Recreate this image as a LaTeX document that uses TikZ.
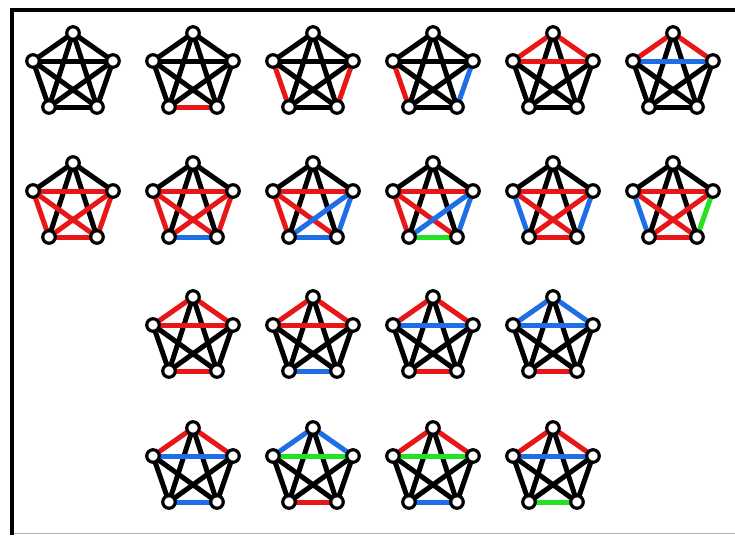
\documentclass[tikz,border=0pt]{standalone}
\usetikzlibrary{backgrounds}
\definecolor{kred}{RGB}{232,22,22}
\definecolor{kblue}{RGB}{30,110,230}
\definecolor{kgreen}{RGB}{35,225,35}
\tikzset{
  vtx/.style={circle, draw=black, fill=white, line width=3.2pt, minimum size=12.5pt, inner sep=0pt},
  kedge/.style={line width=5pt},
  frameline/.style={line width=4pt, black},
  k5/.cd,
  tl/.store in=\Ktl, tr/.store in=\Ktr, lr/.store in=\Klr,
  lbl/.store in=\Klbl, rbr/.store in=\Krbr, bb/.store in=\Kbb,
  tbl/.store in=\Ktbl, tbr/.store in=\Ktbr, lbr/.store in=\Klbr, rbl/.store in=\Krbl,
}
\newcommand\kfive[4][]{%
  \pgfkeys{/tikz/k5/.cd,tl=black,tr=black,lr=black,lbl=black,rbr=black,bb=black,tbl=black,tbr=black,lbr=black,rbl=black,#1}%
  \node[vtx] (#2t) at (#3,#4) {};
  \node[vtx] (#2l) at (#3-40,#4+28) {};
  \node[vtx] (#2r) at (#3+40,#4+28) {};
  \node[vtx] (#2a) at (#3-24,#4+74) {};
  \node[vtx] (#2b) at (#3+24,#4+74) {};
  \begin{scope}[on background layer]
    \draw[kedge, draw=\Ktbl] (#2t.center) -- (#2a.center);
    \draw[kedge, draw=\Ktbr] (#2t.center) -- (#2b.center);
    \draw[kedge, draw=\Klbr] (#2l.center) -- (#2b.center);
    \draw[kedge, draw=\Krbl] (#2r.center) -- (#2a.center);
    \draw[kedge, draw=\Ktl] (#2t.center) -- (#2l.center);
    \draw[kedge, draw=\Ktr] (#2t.center) -- (#2r.center);
    \draw[kedge, draw=\Klr] (#2l.center) -- (#2r.center);
    \draw[kedge, draw=\Klbl] (#2l.center) -- (#2a.center);
    \draw[kedge, draw=\Krbr] (#2r.center) -- (#2b.center);
    \draw[kedge, draw=\Kbb] (#2a.center) -- (#2b.center);
  \end{scope}
}
\begin{document}
\begin{tikzpicture}[x=1pt, y=-1pt]
  \useasboundingbox (0,0) rectangle (735,535);
  \draw[frameline] (12,535) -- (12,10) -- (735,10);
  \draw[gray!60, line width=1.5pt] (14,533.5) -- (735,533.5);
  % row 1
  \kfive{g1}{73}{33}
  \kfive[bb=kred]{g2}{193}{33}
  \kfive[lbl=kred,rbr=kred]{g3}{313}{33}
  \kfive[lbl=kred,rbr=kblue]{g4}{433}{33}
  \kfive[tl=kred,tr=kred,lr=kred]{g5}{553}{33}
  \kfive[tl=kred,tr=kred,lr=kblue]{g6}{673}{33}
  % row 2
  \kfive[lr=kred,lbl=kred,rbr=kred,lbr=kred,rbl=kred,bb=kred]{g7}{73}{163}
  \kfive[lr=kred,lbl=kred,rbr=kred,lbr=kred,rbl=kred,bb=kblue]{g8}{193}{163}
  \kfive[lr=kred,lbl=kred,lbr=kred,rbl=kblue,rbr=kblue,bb=kblue]{g9}{313}{163}
  \kfive[lr=kred,lbl=kred,lbr=kred,rbl=kblue,rbr=kblue,bb=kgreen]{g10}{433}{163}
  \kfive[lr=kred,lbl=kblue,rbr=kblue,lbr=kred,rbl=kred,bb=kred]{g11}{553}{163}
  \kfive[lr=kred,lbl=kblue,rbr=kgreen,lbr=kred,rbl=kred,bb=kred]{g12}{673}{163}
  % row 3
  \kfive[tl=kred,tr=kred,lr=kred,bb=kred]{g13}{193}{297}
  \kfive[tl=kred,tr=kred,lr=kred,bb=kblue]{g14}{313}{297}
  \kfive[tl=kred,tr=kred,lr=kblue,bb=kred]{g15}{433}{297}
  \kfive[tl=kblue,tr=kblue,lr=kblue,bb=kred]{g16}{553}{297}
  % row 4
  \kfive[tl=kred,tr=kred,lr=kblue,bb=kblue]{g17}{193}{428}
  \kfive[tl=kblue,tr=kblue,lr=kgreen,bb=kred]{g18}{313}{428}
  \kfive[tl=kred,tr=kred,lr=kgreen,bb=kblue]{g19}{433}{428}
  \kfive[tl=kred,tr=kred,lr=kblue,bb=kgreen]{g20}{553}{428}
\end{tikzpicture}
\end{document}
